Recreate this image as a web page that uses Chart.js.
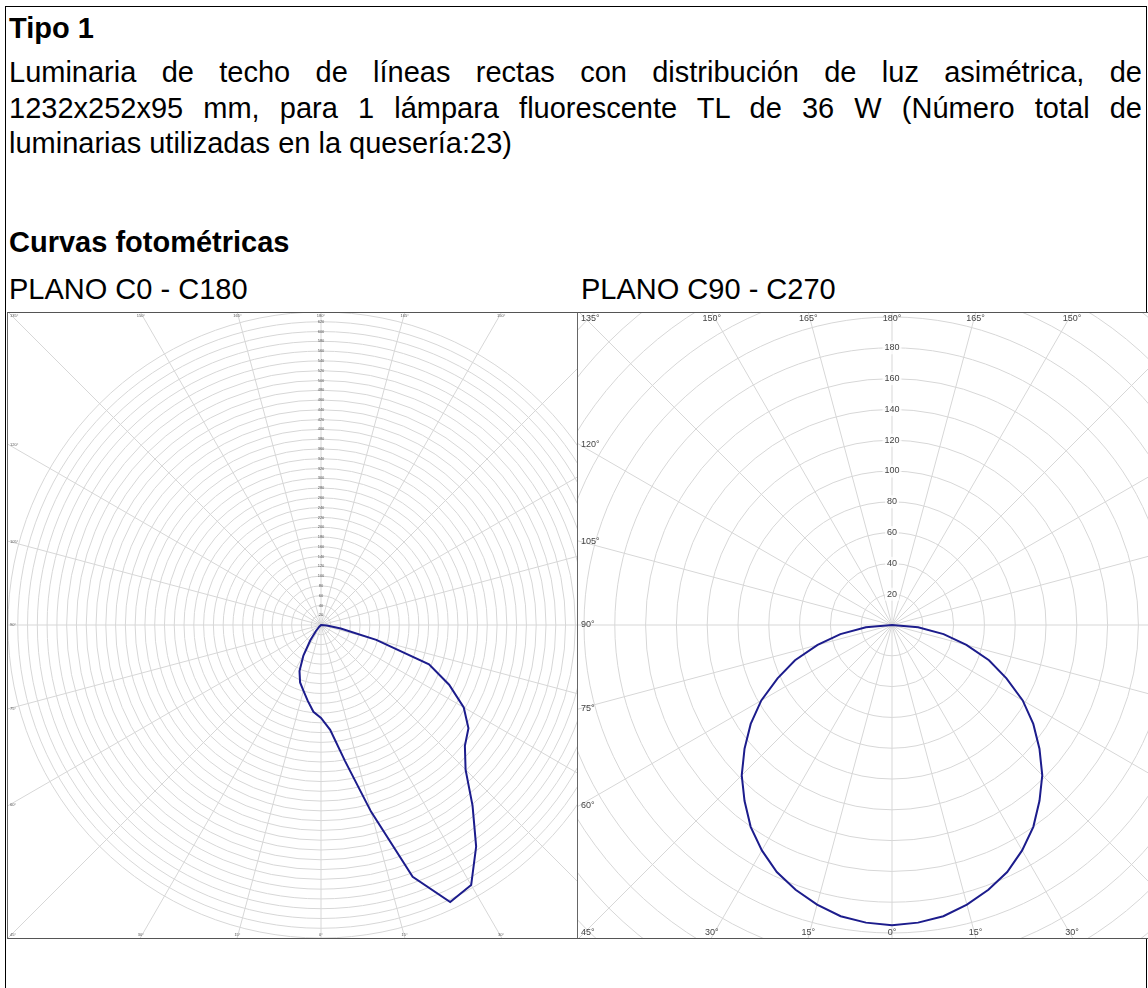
<!DOCTYPE html>
<html>
<head>
<meta charset="utf-8">
<script src="https://cdn.jsdelivr.net/npm/chart.js@4.4.0/dist/chart.umd.min.js"></script>
<style>
  body { margin: 0; background: #fff; width: 1148px; height: 988px; overflow: hidden; position: relative; font-family: "Liberation Sans", Arial, sans-serif; color: #000; }
  .frame { position: absolute; left: 5px; top: 6px; width: 1140px; height: 1000px; border: 1px solid #000; }
  .line { position: absolute; left: 9px; width: 1133px; font-size: 29px; line-height: 29px; white-space: nowrap; }
  .just { text-align: justify; text-align-last: justify; white-space: normal; }
  .b { font-weight: bold; }
  .plot { position: absolute; top: 312px; width: 570px; height: 625px; overflow: hidden; background: #fff;
          border-top: 1px solid #555; border-bottom: 1px solid #555; border-left: 1px solid #666; }
  .plot canvas { position: absolute; }
</style>
</head>
<body>
<div class="frame"></div>
<div class="line b" style="top:14px">Tipo 1</div>
<div class="line just" style="top:58px">Luminaria de techo de líneas rectas con distribución de luz asimétrica, de</div>
<div class="line just" style="top:94px">1232x252x95 mm, para 1 lámpara fluorescente TL de 36 W (Número total de</div>
<div class="line" style="top:129px">luminarias utilizadas en la quesería:23)</div>
<div class="line b" style="top:228px">Curvas fotométricas</div>
<div class="line" style="top:275px">PLANO C0 - C180</div>
<div class="line" style="top:275px; left:581px; width:auto">PLANO C90 - C270</div>

<div class="plot" style="left:7px"><canvas id="c1" width="908" height="908"></canvas></div>
<div class="plot" style="left:577px"><canvas id="c2" width="937" height="937"></canvas></div>

<script>
// gamma angles in 5 degree steps, 0 = nadir (down), 180 = up
const gammas = [0,5,10,15,20,25,30,35,40,45,50,55,60,65,70,75,80,85,90,
  95,100,105,110,115,120,125,130,135,140,145,150,155,160,165,170,175,180];
// angle labels on the frame
const angleTicks = [0,15,30,45,60,75,90,105,120,135,150,165,180];

// plane C0 - C180 (cd/klm)
const c0 = [190,215,282,395,548,625,614,553,482,418,384,368,337,289,235,117,41,12,0,
  0,0,0,0,0,0,0,0,0,0,0,0,0,0,0,0,0,0];
const c180 = [190,178,157,139,125,104,72,38,16,5,0,0,0,0,0,0,0,0,0,
  0,0,0,0,0,0,0,0,0,0,0,0,0,0,0,0,0,0];

// plane C90 - C270 (cd/klm)
const c90 = [195,194,192,188,183,177,169,160,149,138,125,112,98,82,67,50,34,17,0,
  0,0,0,0,0,0,0,0,0,0,0,0,0,0,0,0,0,0];
const c270 = [195,194,192,188,183,177,169,160,149,138,125,112,98,82,67,50,34,17,0,
  0,0,0,0,0,0,0,0,0,0,0,0,0,0,0,0,0,0];

const gridColor = '#d7d7d7';
const curveColor = '#1c1c8c';
const narrow = '"Liberation Sans Narrow", "Liberation Sans", Arial, sans-serif';

// radar goes clockwise from the top: right half 180..0, then left half 5..175
function around(right, left) {
  const out = [];
  for (let k = 0; k < 72; k++) out.push(k <= 36 ? right[36 - k] : left[k - 36]);
  return out;
}
const radarLabels = around(gammas, gammas).map(g => g + '°');

// writes the angle labels where the spokes reach the frame
const edgeLabels = {
  id: 'edgeLabels',
  afterDraw(chart, args, o) {
    const r = chart.scales.r;
    const ctx = chart.ctx;
    const cx = r.xCenter, cy = r.yCenter, h = o.half;
    ctx.save();
    ctx.font = o.size + 'px ' + narrow;
    ctx.fillStyle = o.color;
    angleTicks.forEach(g => {
      [1, -1].forEach(side => {
        if (side < 0 && (g === 0 || g === 180)) return;
        const a = g * Math.PI / 180;
        const dx = side * Math.sin(a), dy = Math.cos(a);
        const t = h / Math.max(Math.abs(dx), Math.abs(dy));
        let x = cx + dx * t, y = cy + dy * t;
        if (Math.abs(dy) >= Math.abs(dx) - 1e-9) {
          ctx.textBaseline = dy < 0 ? 'top' : 'bottom';
          y = dy < 0 ? cy - h + 1 : cy + h;
          if (x <= cx - h + 2) { ctx.textAlign = 'left'; x = cx - h + 1; }
          else if (x >= cx + h - 2) { ctx.textAlign = 'right'; x = cx + h - 1; }
          else ctx.textAlign = 'center';
        } else {
          ctx.textBaseline = 'middle';
          if (dx < 0) { ctx.textAlign = 'left'; x = cx - h + 1; }
          else { ctx.textAlign = 'right'; x = cx + h - 1; }
        }
        ctx.fillText(g + '°', x, y);
      });
    });
    ctx.restore();
  }
};

function polar(id, right, left, max, gridMax, labelMax, fontSize, backdrop, labelColor, cx, cy) {
  const canvas = document.getElementById(id);
  const chart = new Chart(canvas, {
    type: 'radar',
    data: {
      labels: radarLabels,
      datasets: [{
        data: around(right, left),
        borderColor: curveColor,
        borderWidth: 2,
        pointRadius: 0,
        pointHoverRadius: 0,
        fill: false,
        tension: 0
      }]
    },
    options: {
      responsive: false,
      animation: false,
      plugins: {
        legend: { display: false },
        tooltip: { enabled: false },
        edgeLabels: { half: 312, size: fontSize, color: labelColor }
      },
      scales: {
        r: {
          min: 0,
          max: max,
          startAngle: 0,
          grid: {
            circular: true,
            color: c => c.tick && c.tick.value <= gridMax ? gridColor : 'transparent',
            lineWidth: 1
          },
          angleLines: {
            color: c => c.index % 3 === 0 ? gridColor : 'transparent',
            lineWidth: 1
          },
          pointLabels: { display: false },
          ticks: {
            stepSize: 20,
            color: labelColor,
            font: { size: fontSize, family: narrow },
            backdropPadding: 2,
            showLabelBackdrop: backdrop,
            backdropColor: c => c.tick && c.tick.value <= labelMax ? 'rgba(255,255,255,0.8)' : 'transparent',
            callback: v => v <= labelMax ? String(v) : ''
          }
        }
      }
    },
    plugins: [edgeLabels]
  });
  const r = chart.scales.r;
  canvas.style.left = (cx - r.xCenter) + 'px';
  canvas.style.top = (cy - r.yCenter) + 'px';
  return chart;
}

polar('c1', c0, c180, 920, 640, 620, 4, false, '#555', 313, 312);
polar('c2', c90, c270, 300, 300, 180, 9, true, '#444', 314, 312);
</script>
</body>
</html>
